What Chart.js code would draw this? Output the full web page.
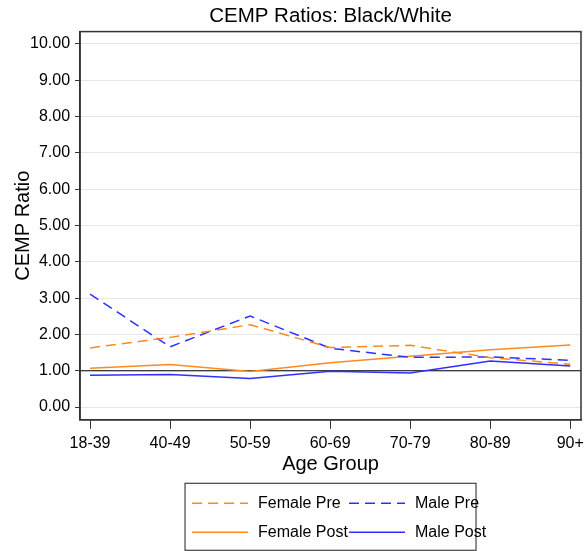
<!DOCTYPE html>
<html>
<head>
<meta charset="utf-8">
<script src="https://cdn.jsdelivr.net/npm/chart.js@4"></script>
<style>body{margin:0;background:#fff}</style>
</head>
<body>
<canvas id="cemp" width="585" height="551"></canvas>
<script>
var ageGroups = ['18-39', '40-49', '50-59', '60-69', '70-79', '80-89', '90+'];
var femalePre = [1.63, 1.92, 2.27, 1.64, 1.70, 1.36, 1.18];
var malePre = [3.11, 1.66, 2.51, 1.62, 1.37, 1.38, 1.29];
var femalePost = [1.07, 1.17, 0.98, 1.22, 1.40, 1.58, 1.71];
var malePost = [0.88, 0.90, 0.79, 0.99, 0.94, 1.27, 1.13];
var yTicks = [0, 1, 2, 3, 4, 5, 6, 7, 8, 9, 10];
var refLine = 1;

var orange = '#ff8a1c';
var blue = '#2f2fff';

function pts(arr) {
    return arr.map(function (v, i) { return {x: i, y: v}; });
}

Chart.defaults.font.family = '"Liberation Sans", Arial, sans-serif';
Chart.defaults.color = '#000';

// box round the plot + the black line at 1
var boxPlugin = {
    id: 'box',
    beforeDatasetsDraw: function (chart) {
        var c = chart.ctx, a = chart.chartArea;
        var y = chart.scales.y.getPixelForValue(refLine);
        c.save();
        c.strokeStyle = '#000';
        c.lineWidth = 1;
        c.beginPath();
        c.moveTo(a.left, y);
        c.lineTo(a.right, y);
        c.stroke();
        c.restore();
    },
    afterDraw: function (chart) {
        var c = chart.ctx, a = chart.chartArea;
        c.save();
        c.strokeStyle = '#333';
        c.lineWidth = 1.5;
        c.strokeRect(a.left, a.top, a.right - a.left, a.bottom - a.top);
        c.restore();
    }
};

// legend drawn as a 2x2 box under the axis title
var legendBox = {
    id: 'legendBox',
    afterDraw: function (chart) {
        var c = chart.ctx, a = chart.chartArea;
        var w = 291, h = 67;
        var left = (a.left + a.right) / 2 - w / 2;
        var top = a.bottom + 63.5;
        c.save();
        c.strokeStyle = '#444';
        c.lineWidth = 1.2;
        c.strokeRect(left, top, w, h);
        c.font = '16px "Liberation Sans", Arial, sans-serif';
        c.textBaseline = 'middle';
        chart.data.datasets.forEach(function (ds, i) {
            var col = i % 2, row = Math.floor(i / 2);
            var x = left + 7 + col * 157;
            var y = top + 20 + row * 29;
            c.strokeStyle = ds.borderColor;
            c.lineWidth = 1.5;
            c.setLineDash(ds.borderDash || []);
            c.beginPath();
            c.moveTo(x, y);
            c.lineTo(x + 56, y);
            c.stroke();
            c.setLineDash([]);
            c.fillStyle = '#000';
            c.fillText(ds.label, x + 66, y);
        });
        c.restore();
    }
};

new Chart(document.getElementById('cemp').getContext('2d'), {
    type: 'line',
    data: {
        datasets: [
            {label: 'Female Pre', data: pts(femalePre), borderColor: orange, borderDash: [10, 6], borderWidth: 1.5, pointRadius: 0, tension: 0},
            {label: 'Male Pre', data: pts(malePre), borderColor: blue, borderDash: [10, 6], borderWidth: 1.5, pointRadius: 0, tension: 0},
            {label: 'Female Post', data: pts(femalePost), borderColor: orange, borderWidth: 1.5, pointRadius: 0, tension: 0},
            {label: 'Male Post', data: pts(malePost), borderColor: blue, borderWidth: 1.5, pointRadius: 0, tension: 0}
        ]
    },
    options: {
        responsive: false,
        animation: false,
        layout: {padding: {left: 8, right: 0, top: 0, bottom: 75}},
        plugins: {
            legend: {display: false},
            tooltip: {enabled: false},
            title: {
                display: true,
                fullSize: false,
                text: 'CEMP Ratios: Black/White',
                font: {size: 20.5, weight: 'normal'},
                color: '#000',
                padding: {top: 4, bottom: 3}
            }
        },
        scales: {
            x: {
                type: 'linear',
                min: -0.125,
                max: 6.134,
                afterBuildTicks: function (s) {
                    s.ticks = ageGroups.map(function (_, i) { return {value: i}; });
                },
                // "90+" is allowed to run to the canvas edge, as in the original
                afterFit: function (s) {
                    s.paddingRight = 4;
                },
                ticks: {
                    callback: function (v) { return ageGroups[v]; },
                    font: {size: 16},
                    color: '#000',
                    maxRotation: 0,
                    autoSkip: false,
                    padding: 5
                },
                grid: {drawOnChartArea: false, tickLength: 9, tickColor: '#333'},
                border: {color: '#333', width: 1.5},
                title: {display: true, text: 'Age Group', font: {size: 20}, color: '#000', padding: {top: -6, bottom: 0}}
            },
            y: {
                min: -0.35,
                max: 10.34,
                afterBuildTicks: function (s) {
                    s.ticks = yTicks.map(function (v) { return {value: v}; });
                },
                ticks: {
                    callback: function (v) { return v.toFixed(2); },
                    font: {size: 16},
                    color: '#000',
                    padding: 5
                },
                grid: {color: '#e6e6e6', tickLength: 5, tickColor: '#333'},
                border: {color: '#333', width: 1.5},
                title: {display: true, text: 'CEMP Ratio', font: {size: 20, lineHeight: 1}, color: '#000', padding: {top: 5, bottom: -8}}
            }
        }
    },
    plugins: [boxPlugin, legendBox]
});
</script>
</body>
</html>
